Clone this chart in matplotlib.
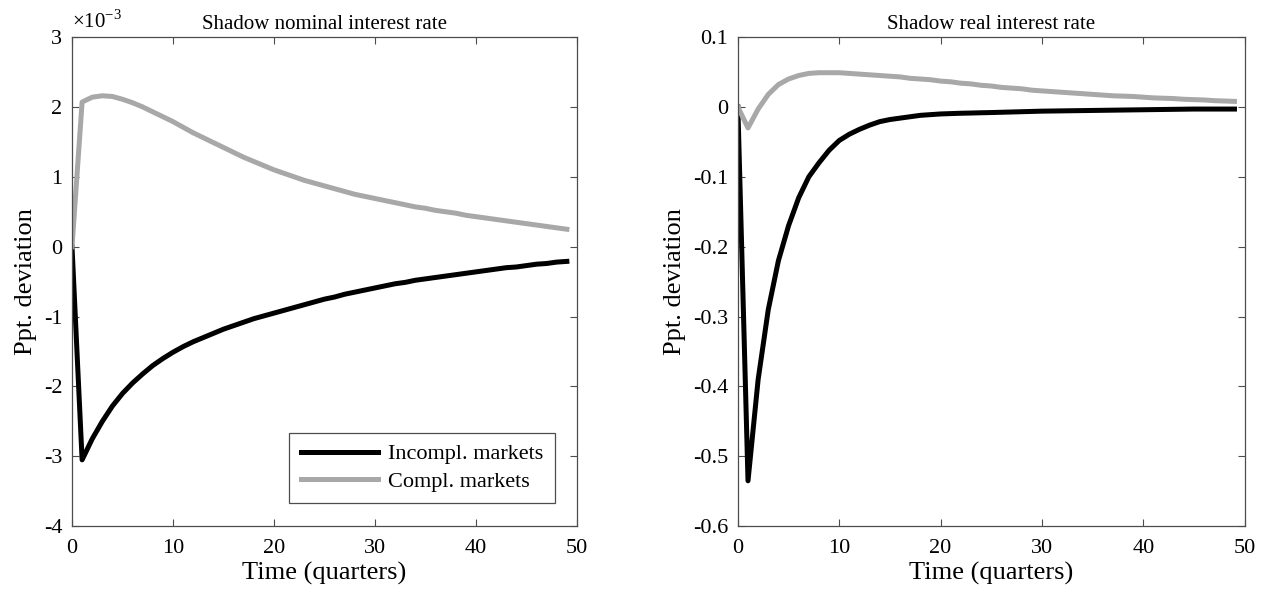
import numpy as np
import matplotlib.pyplot as plt

plt.rcParams['font.family'] = ['Liberation Serif', 'DejaVu Serif']
plt.rcParams['mathtext.fontset'] = 'custom'
plt.rcParams['mathtext.rm'] = 'Liberation Serif'
plt.rcParams['axes.unicode_minus'] = False

t = np.arange(50)

# shadow nominal rate, in units of 1e-3
nom_incompl = [0, -3.05, -2.75, -2.50, -2.28, -2.10, -1.95, -1.82, -1.70, -1.60,
               -1.51, -1.43, -1.36, -1.30, -1.24, -1.18, -1.13, -1.08, -1.03, -0.99,
               -0.95, -0.91, -0.87, -0.83, -0.79, -0.75, -0.72, -0.68, -0.65, -0.62,
               -0.59, -0.56, -0.53, -0.51, -0.48, -0.46, -0.44, -0.42, -0.40, -0.38,
               -0.36, -0.34, -0.32, -0.30, -0.29, -0.27, -0.25, -0.24, -0.22, -0.21]
nom_compl = [0, 2.07, 2.14, 2.16, 2.15, 2.11, 2.06, 2.00, 1.93, 1.86,
             1.79, 1.71, 1.63, 1.56, 1.49, 1.42, 1.35, 1.28, 1.22, 1.16,
             1.10, 1.05, 1.00, 0.95, 0.91, 0.87, 0.83, 0.79, 0.75, 0.72,
             0.69, 0.66, 0.63, 0.60, 0.57, 0.55, 0.52, 0.50, 0.48, 0.45,
             0.43, 0.41, 0.39, 0.37, 0.35, 0.33, 0.31, 0.29, 0.27, 0.25]
nom_ticks = [-4, -3, -2, -1, 0, 1, 2, 3]

# shadow real rate
real_incompl = [0, -0.535, -0.39, -0.29, -0.22, -0.17, -0.13, -0.10, -0.08, -0.062,
                -0.048, -0.039, -0.032, -0.026, -0.021, -0.018, -0.016, -0.014, -0.012, -0.011,
                -0.010, -0.0095, -0.009, -0.0087, -0.0083, -0.008, -0.0076, -0.0072, -0.0068, -0.0064,
                -0.006, -0.0058, -0.0056, -0.0054, -0.0052, -0.005, -0.0048, -0.0046, -0.0044, -0.0042,
                -0.004, -0.0038, -0.0036, -0.0034, -0.0032, -0.003, -0.003, -0.003, -0.003, -0.003]
real_compl = [0, -0.030, -0.003, 0.018, 0.032, 0.040, 0.045, 0.048, 0.049, 0.049,
              0.049, 0.048, 0.047, 0.046, 0.045, 0.044, 0.043, 0.041, 0.040, 0.039,
              0.037, 0.036, 0.034, 0.033, 0.031, 0.030, 0.028, 0.027, 0.026, 0.024,
              0.023, 0.022, 0.021, 0.020, 0.019, 0.018, 0.017, 0.016, 0.0155, 0.015,
              0.014, 0.013, 0.0125, 0.012, 0.011, 0.0105, 0.010, 0.009, 0.0085, 0.008]
real_ticks = [-0.6, -0.5, -0.4, -0.3, -0.2, -0.1, 0, 0.1]

gray = (0.66, 0.66, 0.66)
fig = plt.figure(figsize=(12.7, 5.98), dpi=100)
ax1 = fig.add_axes([0.0567, 0.12, 0.3976, 0.818])
ax2 = fig.add_axes([0.581, 0.12, 0.399, 0.818])

ax1.plot(t, np.array(nom_incompl) * 1e-3, color='black', lw=3.6, label='Incompl. markets')
ax1.plot(t, np.array(nom_compl) * 1e-3, color=gray, lw=3.6, label='Compl. markets')
ax2.plot(t, real_incompl, color='black', lw=3.6)
ax2.plot(t, real_compl, color=gray, lw=3.6)

ax1.set_ylim(-4e-3, 3e-3)
ax1.set_yticks(np.array(nom_ticks) * 1e-3)
ax1.set_yticklabels([str(v) for v in nom_ticks])
ax1.text(0.0, 1.008, r'$\times$10$^{-3}$', transform=ax1.transAxes, fontsize=15,
         ha='left', va='bottom')

ax2.set_ylim(-0.6, 0.1)
ax2.set_yticks(real_ticks)
ax2.set_yticklabels([('%g' % v) for v in real_ticks])

for ax, title in [(ax1, 'Shadow nominal interest rate'), (ax2, 'Shadow real interest rate')]:
    ax.set_xlim(0, 50)
    ax.set_xticks(range(0, 51, 10))
    ax.set_title(title, fontsize=15, pad=6)
    ax.set_xlabel('Time (quarters)', fontsize=19, labelpad=3)
    ax.set_ylabel('Ppt. deviation', fontsize=19, labelpad=5)
    ax.tick_params(direction='in', top=True, right=True, labelsize=16,
                   length=5, width=0.8, color='0.3')
    ax.tick_params(axis='x', pad=9)
    ax.tick_params(axis='y', pad=7)
    for s in ax.spines.values():
        s.set_color('0.3')
        s.set_linewidth(0.9)

leg = ax1.legend(loc='lower right', bbox_to_anchor=(0.956, 0.047), borderaxespad=0,
                 fontsize=16, frameon=True, fancybox=False, edgecolor='0.3', framealpha=1,
                 handlelength=3.5, borderpad=0.5, labelspacing=0.32, handletextpad=0.45)
leg.get_frame().set_linewidth(0.9)

fig.savefig('out.png', dpi=100)
